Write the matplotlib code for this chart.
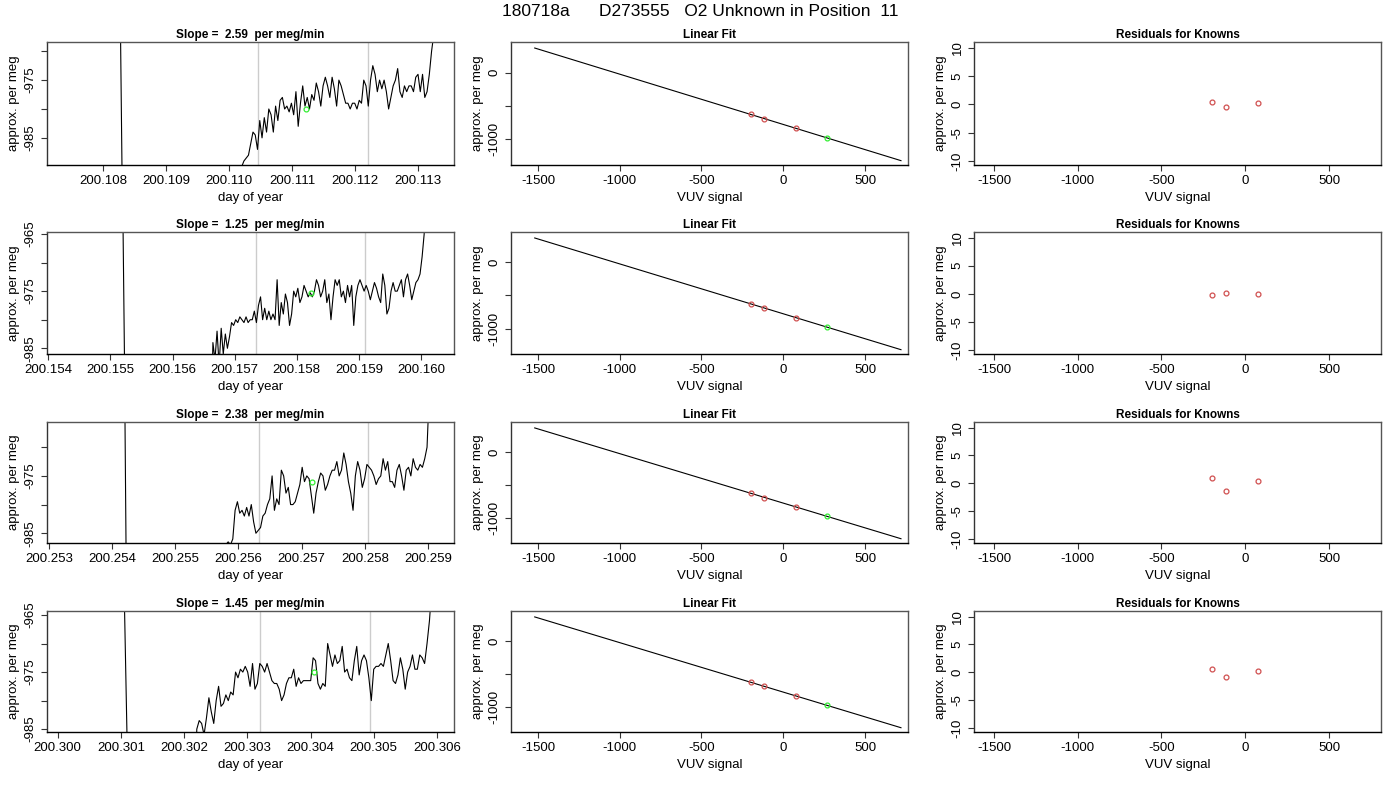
import numpy as np
import matplotlib
matplotlib.use("Agg")
import matplotlib.pyplot as plt

plt.rcParams['font.family'] = ['Liberation Sans', 'DejaVu Sans']
plt.rcParams['axes.unicode_minus'] = False

suptitle = "180718a      D273555   O2 Unknown in Position  11"
slopes = ["2.59", "1.25", "2.38", "1.45"]

# time-series segments: (drop time, rise start, rise end)
drop_t = [(200.10827, 200.10831), (200.15520, 200.15524), (200.25420, 200.25423), (200.30105, 200.30112)]
rise_t = [(200.1102, 200.11325), (200.15665, 200.16005), (200.2558, 200.25902), (200.3022, 200.30592)]
vals1 = [-990, -989, -988.5, -988, -986, -984, -984.5, -987, -982, -985, -981.5, -984, -980, -981, -984,
         -979.5, -982, -978.5, -978, -980, -979.5, -980.5, -979, -981, -977, -983, -979, -976, -979.5, -978,
         -980, -977.5, -978.5, -975.5, -977, -979.5, -976, -974.5, -976, -978, -974.5, -976.5, -979.5, -975,
         -976, -977.5, -979, -979, -980, -979, -979, -980, -978.5, -979, -975, -976, -979.5, -975, -972.5,
         -974, -977, -975, -976.5, -975, -977, -980, -978, -976, -975, -973, -977, -978, -976, -977, -976,
         -976, -977, -974.5, -974, -977, -974, -978, -977, -974, -970, -967]
vals2 = [-984, -987, -982, -988, -981.5, -986, -982.5, -985, -983, -980.5, -981, -980, -980.5, -979.5, -980,
         -980.5, -979.5, -980.5, -980, -980, -978.5, -980.5, -977.5, -976, -980, -978, -980, -978.5, -980, -979,
         -980, -973, -981, -977, -979, -975.5, -977, -981, -979, -975, -976, -974.5, -977, -976, -974, -975,
         -976, -975.3, -976, -975, -973, -974, -976, -975, -973, -977, -975.5, -980, -976, -973, -974, -973,
         -976, -975, -977, -974, -976, -974, -981, -976, -974, -973, -974, -975, -974, -975, -976.5, -975,
         -973.5, -974.5, -976, -977, -972, -974, -979, -978, -975, -973.5, -975, -975, -974, -973, -976, -973,
         -972, -974, -976.5, -975, -973.5, -973, -972, -969, -965]
vals3 = [-987, -986.5, -987, -986, -981, -979.5, -981.5, -981, -982, -980.5, -982, -980, -983, -985, -984.5,
         -984, -982, -981.5, -980, -979, -975, -981, -979, -980, -974, -975, -978, -977, -980, -980, -979.5,
         -978, -976.5, -973.5, -976, -975, -975.5, -978.5, -981.5, -978, -976, -974.5, -975, -977.5, -976.5,
         -975, -974, -974, -972.5, -975, -974, -971, -973, -976, -978, -981, -975, -972.5, -974, -977, -975.5,
         -973, -973.5, -974, -975, -976.5, -975.5, -975, -972, -974, -972.5, -976, -976, -977, -974, -973,
         -975, -977.5, -974, -973.5, -975, -972, -973.5, -974, -973, -973.5, -972, -970, -960]
vals4 = [-985, -983.5, -984, -986, -983, -979.5, -982, -984, -980, -977.5, -981, -980.5, -979, -980, -978.5,
         -979, -975, -976, -974.5, -975, -974, -975, -977.5, -973.5, -978, -977, -973.5, -974, -975, -973.5,
         -975, -976.5, -977, -977, -978, -980, -979, -977, -976, -976, -974.5, -977.5, -976, -977, -976.5,
         -976.5, -976.5, -976.5, -972.5, -973, -977, -978, -977, -977.5, -970, -972, -974, -972, -973.5, -973,
         -970.5, -975, -974.5, -976, -976.5, -973, -970.5, -975.5, -973, -972, -973, -976, -980, -974.5, -974,
         -974, -973.5, -974, -972, -970, -973, -976.5, -977, -975.5, -972.5, -974.5, -978, -975, -974, -972,
         -974.5, -974.5, -972, -972.5, -973.5, -970, -966, -960]
series_vals = [vals1, vals2, vals3, vals4]
green_t = [200.11122, 200.15823, 200.25717, 200.30406]
green_y = [-980.0, -975.3, -976.0, -975.0]
vlines = [(200.11046, 200.11221), (200.15735, 200.15910), (200.25632, 200.25805), (200.30320, 200.30494)]
xlims = [(200.10711, 200.11357), (200.15398, 200.16053), (200.25297, 200.25941), (200.29983, 200.30627)]
ylims = [(-989.7, -968.4), (-986.0, -964.65), (-986.7, -965.6), (-985.5, -964.3)]
xticks = [[200.108, 200.109, 200.110, 200.111, 200.112, 200.113],
          [200.154, 200.155, 200.156, 200.157, 200.158, 200.159, 200.160],
          [200.253, 200.254, 200.255, 200.256, 200.257, 200.258, 200.259],
          [200.300, 200.301, 200.302, 200.303, 200.304, 200.305, 200.306]]
yticks = [-985, -980, -975, -970, -965]
ylabeled = [[-985, -975], [-985, -975, -965], [-985, -975], [-985, -975, -965]]

# linear fit
fit_slope = [-0.755, -0.755, -0.755, -0.755]
fit_icpt = [-777, -777, -777, -777]
known_x = [-200, -115, 75]
unk_x = 270
resid = [[0.4, -0.5, 0.2], [-0.2, 0.2, 0.0], [1.0, -1.3, 0.4], [0.6, -0.9, 0.3]]
line_x = [-1520, 720]

W, H = 1400, 800
fig = plt.figure(figsize=(14, 8), dpi=100)
fig.text(0.5, 1 - 12 / H, suptitle, ha='center', va='center', fontsize=12.5)

cols = [(47, 454), (511, 908), (974, 1381)]
rows = [(42, 165), (232, 354), (422, 543), (611, 732)]
red = '#d05050'
green = '#33ee33'

def mkax(c, r):
    x0, x1 = cols[c]
    y0, y1 = rows[r]
    ax = fig.add_axes([x0 / W, 1 - y1 / H, (x1 - x0) / W, (y1 - y0) / H])
    for s in ax.spines.values():
        s.set_color('#555555')
        s.set_linewidth(1)
    ax.spines['bottom'].set_color('black')
    ax.spines['left'].set_color('#333333')
    ax.tick_params(labelsize=9.5, length=4, color='#333333')
    return ax

def style_y(ax, ticks, labels):
    ax.set_yticks(ticks)
    ax.set_yticklabels(labels, rotation=90, va='center')

for r in range(4):
    # time series
    ax = mkax(0, r)
    t0, t1 = rise_t[r]
    v = series_vals[r]
    tt = np.concatenate([[drop_t[r][0] - 0.0003, drop_t[r][0], drop_t[r][1], t0 - 0.00003],
                         np.linspace(t0, t1, len(v)), [t1 + 0.0001]])
    yy = np.concatenate([[-900, -960, -1000, -1000], v, [-900]])
    for vl in vlines[r]:
        ax.axvline(vl, color='#cccccc', lw=1)
    ax.plot(tt, yy, color='black', lw=0.8)
    ax.plot([green_t[r]], [green_y[r]], 'o', mfc='none', mec=green, ms=3.5, mew=0.9)
    ax.set_xlim(*xlims[r])
    ax.set_ylim(*ylims[r])
    ax.set_xticks(xticks[r])
    ax.set_xticklabels(["%.3f" % t for t in xticks[r]])
    yt = [t for t in yticks if ylims[r][0] <= t <= ylims[r][1]]
    style_y(ax, yt, [str(t) if t in ylabeled[r] else '' for t in yt])
    ax.set_xlabel('day of year', fontsize=9.5, labelpad=3)
    ax.set_ylabel('approx. per meg', fontsize=9.5, labelpad=3)
    ax.set_title('Slope =  %s  per meg/min' % slopes[r], fontsize=8.5, fontweight='bold', pad=3)

    # linear fit
    ax = mkax(1, r)
    lx = np.array(line_x)
    ax.plot(lx, fit_icpt[r] + fit_slope[r] * lx, color='black', lw=0.8)
    kx = np.array(known_x)
    ky = fit_icpt[r] + fit_slope[r] * kx + np.array(resid[r])
    ax.plot(kx, ky, 'o', mfc='none', mec=red, ms=3.5, mew=0.9)
    ax.plot([unk_x], [fit_icpt[r] + fit_slope[r] * unk_x], 'o', mfc='none', mec=green, ms=3.5, mew=0.9)
    ax.set_xlim(-1665, 763)
    ax.set_ylim(-1386, 461)
    ax.set_xticks([-1500, -1000, -500, 0, 500])
    style_y(ax, [-1000, -500, 0], ['-1000', '', '0'])
    ax.set_xlabel('VUV signal', fontsize=9.5, labelpad=3)
    ax.set_ylabel('approx. per meg', fontsize=9.5, labelpad=3)
    ax.set_title('Linear Fit', fontsize=8.5, fontweight='bold', pad=3)

    # residuals
    ax = mkax(2, r)
    ax.plot(kx, resid[r], 'o', mfc='none', mec=red, ms=3.5, mew=0.9)
    ax.set_xlim(-1619, 810)
    ax.set_ylim(-10.7, 11)
    ax.set_xticks([-1500, -1000, -500, 0, 500])
    style_y(ax, [-10, -5, 0, 5, 10], ['-10', '-5', '0', '5', '10'])
    ax.set_xlabel('VUV signal', fontsize=9.5, labelpad=3)
    ax.set_ylabel('approx. per meg', fontsize=9.5, labelpad=3)
    ax.set_title('Residuals for Knowns', fontsize=8.5, fontweight='bold', pad=3)

fig.savefig('out.png', dpi=100)
